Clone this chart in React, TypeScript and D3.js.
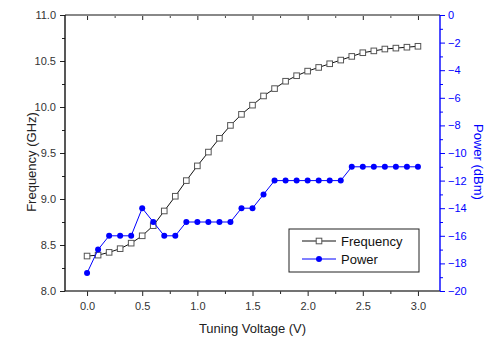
import { useEffect, useRef } from "react";
import * as d3 from "d3";

// tuning voltage (V)
const voltage = [
  0, 0.1, 0.2, 0.3, 0.4, 0.5, 0.6, 0.7, 0.8, 0.9, 1.0, 1.1, 1.2, 1.3, 1.4, 1.5,
  1.6, 1.7, 1.8, 1.9, 2.0, 2.1, 2.2, 2.3, 2.4, 2.5, 2.6, 2.7, 2.8, 2.9, 3.0,
];
// frequency (GHz)
const frequency = [
  8.38, 8.39, 8.42, 8.46, 8.52, 8.6, 8.71, 8.87, 9.03, 9.2, 9.36, 9.51, 9.66,
  9.8, 9.92, 10.02, 10.12, 10.2, 10.28, 10.34, 10.39, 10.43, 10.47, 10.51,
  10.55, 10.59, 10.61, 10.63, 10.64, 10.65, 10.66,
];
// output power (dBm)
const power = [
  -18.7, -17, -16, -16, -16, -14, -15, -16, -16, -15, -15, -15, -15, -15, -14,
  -14, -13, -12, -12, -12, -12, -12, -12, -12, -11, -11, -11, -11, -11, -11,
  -11,
];

const xTicks = [0, 0.5, 1.0, 1.5, 2.0, 2.5, 3.0];
const xMinor = [0.25, 0.75, 1.25, 1.75, 2.25, 2.75];
const freqTicks = [8.0, 8.5, 9.0, 9.5, 10.0, 10.5, 11.0];
const freqMinor = [8.25, 8.75, 9.25, 9.75, 10.25, 10.75];
const powerTicks = [-20, -18, -16, -14, -12, -10, -8, -6, -4, -2, 0];
const powerMinor = [-19, -17, -15, -13, -11, -9, -7, -5, -3, -1];

const FONT = "'Liberation Sans', Arial, sans-serif";
const BLUE = "#0000ff";

export default function App() {
  const ref = useRef<SVGSVGElement>(null);

  useEffect(() => {
    const width = 490;
    const height = 338;
    const margin = { top: 15, right: 50, bottom: 47, left: 65 };
    const svg = d3.select(ref.current).attr("width", width).attr("height", height);
    svg.selectAll("*").remove();

    const x = d3.scaleLinear().domain([-0.2, 3.2]).range([margin.left, width - margin.right]);
    const yF = d3.scaleLinear().domain([8, 11]).range([height - margin.bottom, margin.top]);
    const yP = d3.scaleLinear().domain([-20, 0]).range([height - margin.bottom, margin.top]);
    const [x0, x1] = x.range();
    const [yb, yt] = yF.range();

    const styleAxis = (g: any, color: string, textColor: string) => {
      g.select(".domain").remove();
      g.selectAll("line").attr("stroke", color);
      g.selectAll("text")
        .attr("fill", textColor)
        .style("font-family", FONT)
        .style("font-size", "11px");
    };

    // bottom axis, ticks outward
    svg.append("g")
      .attr("transform", `translate(0,${yb})`)
      .call(d3.axisBottom(x).tickValues(xTicks).tickFormat(d3.format(".1f")).tickSize(5).tickPadding(6))
      .call((g: any) => styleAxis(g, "#222", "#333"));
    svg.append("g")
      .attr("transform", `translate(0,${yb})`)
      .call(d3.axisBottom(x).tickValues(xMinor).tickFormat(() => "").tickSize(3))
      .call((g: any) => styleAxis(g, "#222", "#333"));

    // top mirror axis, ticks pointing into the plot
    svg.append("g")
      .attr("transform", `translate(0,${yt})`)
      .call(d3.axisBottom(x).tickValues(xTicks).tickFormat(() => "").tickSize(5))
      .call((g: any) => styleAxis(g, "#222", "#333"));
    svg.append("g")
      .attr("transform", `translate(0,${yt})`)
      .call(d3.axisBottom(x).tickValues(xMinor).tickFormat(() => "").tickSize(3))
      .call((g: any) => styleAxis(g, "#444", "#333"));

    // left axis
    svg.append("g")
      .attr("transform", `translate(${x0},0)`)
      .call(d3.axisLeft(yF).tickValues(freqTicks).tickFormat(d3.format(".1f")).tickSize(5).tickPadding(4))
      .call((g: any) => styleAxis(g, "#222", "#333"));
    svg.append("g")
      .attr("transform", `translate(${x0},0)`)
      .call(d3.axisLeft(yF).tickValues(freqMinor).tickFormat(() => "").tickSize(3))
      .call((g: any) => styleAxis(g, "#222", "#333"));

    // right axis (power, blue)
    svg.append("g")
      .attr("transform", `translate(${x1},0)`)
      .call(d3.axisRight(yP).tickValues(powerTicks).tickFormat(d3.format("d")).tickSize(5).tickPadding(3))
      .call((g: any) => styleAxis(g, BLUE, BLUE));
    svg.append("g")
      .attr("transform", `translate(${x1},0)`)
      .call(d3.axisRight(yP).tickValues(powerMinor).tickFormat(() => "").tickSize(3))
      .call((g: any) => styleAxis(g, BLUE, BLUE));

    // frame
    svg.append("line").attr("x1", x0).attr("x2", x1).attr("y1", yt).attr("y2", yt)
      .attr("stroke", "#888").attr("stroke-width", 2);
    svg.append("line").attr("x1", x0).attr("x2", x1).attr("y1", yb).attr("y2", yb)
      .attr("stroke", "#444").attr("stroke-width", 1.4);
    svg.append("line").attr("x1", x0).attr("x2", x0).attr("y1", yt).attr("y2", yb)
      .attr("stroke", "#111").attr("stroke-width", 1.4);
    svg.append("line").attr("x1", x1).attr("x2", x1).attr("y1", yt).attr("y2", yb)
      .attr("stroke", BLUE).attr("stroke-width", 1.4);

    const freqData = voltage.map((v, i) => [v, frequency[i]] as [number, number]);
    const powData = voltage.map((v, i) => [v, power[i]] as [number, number]);

    // frequency line + open squares
    svg.append("path")
      .datum(freqData)
      .attr("fill", "none")
      .attr("stroke", "#111")
      .attr("stroke-width", 1)
      .attr("d", d3.line<[number, number]>().x(d => x(d[0])).y(d => yF(d[1])));
    svg.append("g").selectAll("rect")
      .data(freqData)
      .join("rect")
      .attr("x", d => x(d[0]) - 2.8)
      .attr("y", d => yF(d[1]) - 2.8)
      .attr("width", 5.6)
      .attr("height", 5.6)
      .attr("fill", "white")
      .attr("stroke", "#555")
      .attr("stroke-width", 1);

    // power line + filled circles
    svg.append("path")
      .datum(powData)
      .attr("fill", "none")
      .attr("stroke", BLUE)
      .attr("stroke-width", 1)
      .attr("d", d3.line<[number, number]>().x(d => x(d[0])).y(d => yP(d[1])));
    svg.append("g").selectAll("circle")
      .data(powData)
      .join("circle")
      .attr("cx", d => x(d[0]))
      .attr("cy", d => yP(d[1]))
      .attr("r", 3)
      .attr("fill", BLUE);

    // axis titles
    svg.append("text")
      .attr("transform", `translate(31,162) rotate(-90)`)
      .attr("text-anchor", "middle")
      .attr("dominant-baseline", "central")
      .style("font-family", FONT)
      .style("font-size", "13px")
      .attr("fill", "#222")
      .text("Frequency (GHz)");
    svg.append("text")
      .attr("transform", `translate(478,162) rotate(90)`)
      .attr("text-anchor", "middle")
      .attr("dominant-baseline", "central")
      .style("font-family", FONT)
      .style("font-size", "13px")
      .attr("fill", BLUE)
      .text("Power (dBm)");
    svg.append("text")
      .attr("x", (x0 + x1) / 2)
      .attr("y", 328)
      .attr("text-anchor", "middle")
      .attr("dominant-baseline", "central")
      .style("font-family", FONT)
      .style("font-size", "13px")
      .attr("fill", "#222")
      .text("Tuning Voltage (V)");

    // legend
    const lg = svg.append("g").attr("transform", "translate(289,229)");
    lg.append("rect").attr("width", 130).attr("height", 43)
      .attr("fill", "white").attr("stroke", "#222").attr("stroke-width", 1);
    lg.append("line").attr("x1", 13).attr("x2", 47).attr("y1", 12).attr("y2", 12).attr("stroke", "#111");
    lg.append("rect").attr("x", 27.2).attr("y", 9.2).attr("width", 5.6).attr("height", 5.6)
      .attr("fill", "white").attr("stroke", "#555");
    lg.append("text").attr("x", 52).attr("y", 12).attr("dominant-baseline", "central")
      .style("font-family", FONT).style("font-size", "13px").attr("fill", "#111").text("Frequency");
    lg.append("line").attr("x1", 13).attr("x2", 47).attr("y1", 30).attr("y2", 30).attr("stroke", BLUE);
    lg.append("circle").attr("cx", 30).attr("cy", 30).attr("r", 3).attr("fill", BLUE);
    lg.append("text").attr("x", 52).attr("y", 30).attr("dominant-baseline", "central")
      .style("font-family", FONT).style("font-size", "13px").attr("fill", "#111").text("Power");
  }, []);

  return (
    <svg ref={ref} style={{ position: "absolute", left: 0, top: 0, background: "white" }} />
  );
}
